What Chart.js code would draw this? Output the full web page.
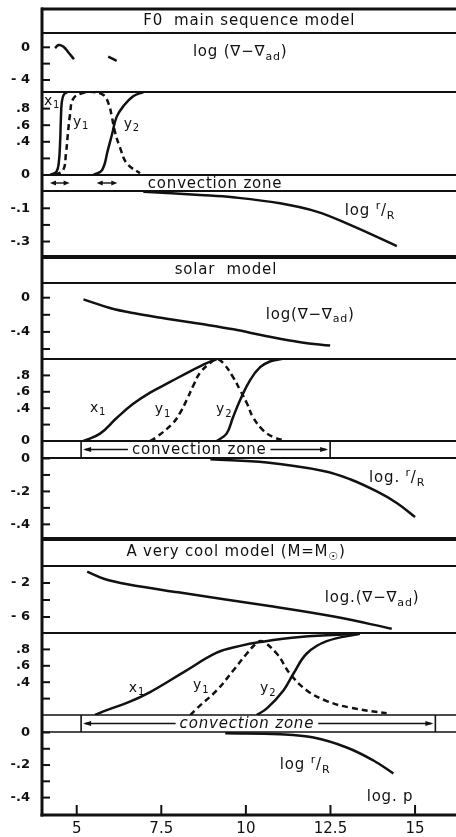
<!DOCTYPE html>
<html>
<head>
<meta charset="utf-8">
<script src="https://cdn.jsdelivr.net/npm/chart.js@4.4.0/dist/chart.umd.min.js"></script>
<style>
  html, body { margin: 0; padding: 0; background: #fff; overflow: hidden; }
</style>
</head>
<body>
<canvas id="chart" width="456" height="837"></canvas>
<script>
// ---- data (x = log p) ----
const xTicks = [5, 7.5, 10, 12.5, 15];
const xTickLabels = ['5', '7.5', '10', '12.5', '15'];

// F0 main sequence model
const f0Grad = [[4.36, -0.1], [4.46, 0.28], [4.6, 0.1], [4.75, -0.6], [4.92, -1.45], [5.4, null], [5.93, -1.15], [6.18, -1.65]];
const f0X1 = [[4.21, 0], [4.4, 0.04], [4.47, 0.15], [4.51, 0.4], [4.53, 0.65], [4.56, 0.88], [4.62, 0.97], [4.72, 1.0]];
const f0Y1 = [[4.36, 0], [4.6, 0.06], [4.68, 0.25], [4.74, 0.5], [4.8, 0.72], [4.9, 0.92], [5.2, 0.99], [5.49, 1.0], [5.8, 0.96], [5.95, 0.85], [6.03, 0.72], [6.13, 0.52], [6.28, 0.33], [6.48, 0.14], [6.87, 0.02]];
const f0Y2 = [[5.49, 0], [5.75, 0.06], [5.92, 0.3], [6.05, 0.5], [6.18, 0.7], [6.38, 0.83], [6.67, 0.95], [6.97, 1.0]];
const f0R = [[6.97, 0.0], [8.64, -0.02], [9.62, -0.034], [11.01, -0.07], [12.09, -0.12], [13.08, -0.2], [14.46, -0.327]];
const f0Conv = [[4.21, 4.79], [5.59, 6.2]];

// solar model
const solarGrad = [[5.2, -0.02], [5.98, -0.12], [6.67, -0.18], [7.66, -0.245], [8.64, -0.305], [9.63, -0.37], [10.62, -0.45], [11.61, -0.52], [12.49, -0.56]];
const solarX1 = [[5.2, 0], [5.69, 0.09], [6.18, 0.28], [6.66, 0.45], [7.17, 0.59], [7.76, 0.72], [8.35, 0.85], [8.84, 0.95], [9.14, 1.0]];
const solarY1 = [[7.17, 0], [7.37, 0.05], [7.85, 0.22], [8.05, 0.34], [8.25, 0.5], [8.45, 0.68], [8.64, 0.83], [8.94, 0.95], [9.14, 1.0], [9.35, 0.94], [9.62, 0.78], [9.83, 0.62], [10.03, 0.46], [10.21, 0.29], [10.51, 0.13], [10.8, 0.05], [11.1, 0.01]];
const solarY2 = [[9.14, 0], [9.43, 0.09], [9.62, 0.29], [9.83, 0.5], [10.12, 0.74], [10.42, 0.9], [10.71, 0.97], [11.06, 1.0]];
const solarR = [[8.95, -0.005], [10.62, -0.025], [12.29, -0.076], [13.08, -0.126], [13.87, -0.2], [14.46, -0.27], [15.0, -0.356]];
const solarConv = [5.13, 12.49];

// a very cool model
const coolGrad = [[5.31, -0.67], [5.8, -1.5], [6.5, -2.15], [8.0, -3.1], [10.6, -4.65], [12.6, -5.95], [14.31, -7.38]];
const coolX1 = [[5.54, 0], [5.89, 0.06], [6.5, 0.15], [7.17, 0.28], [8.15, 0.52], [9.14, 0.76], [9.8, 0.84], [10.42, 0.89], [11.6, 0.95], [13.37, 0.99]];
const coolY1 = [[8.36, 0], [8.55, 0.08], [9.14, 0.3], [9.62, 0.54], [10.03, 0.75], [10.3, 0.87], [10.47, 0.9], [10.91, 0.75], [11.31, 0.5], [11.8, 0.3], [12.39, 0.17], [13.08, 0.09], [14.16, 0.02]];
const coolY2 = [[10.32, 0], [10.62, 0.08], [11.11, 0.3], [11.4, 0.5], [11.8, 0.75], [12.39, 0.9], [13.37, 0.99]];
const coolR = [[9.39, -0.005], [11.01, -0.011], [12.0, -0.031], [12.98, -0.092], [13.77, -0.172], [14.36, -0.252]];
const coolConv = [5.13, 15.6];

// y tick values and their printed labels
const f0GradTicks = [0, -2, -4];           const f0GradLabels = ['0', '', '- 4'];
const f0CompTicks = [0, 0.2, 0.4, 0.6, 0.8]; const f0CompLabels = ['0', '', '.4', '.6', '.8'];
const f0RTicks = [-0.1, -0.2, -0.3];       const f0RLabels = ['-.1', '', '-.3'];
const solarGradTicks = [0, -0.2, -0.4, -0.6]; const solarGradLabels = ['0', '', '-.4', ''];
const solarCompTicks = [0, 0.2, 0.4, 0.6, 0.8]; const solarCompLabels = ['0', '', '.4', '.6', '.8'];
const solarRTicks = [0, -0.1, -0.2, -0.3, -0.4]; const solarRLabels = ['0', '', '-.2', '', '-.4'];
const coolGradTicks = [-2, -4, -6];        const coolGradLabels = ['- 2', '', '- 6'];
const coolCompTicks = [0.2, 0.4, 0.6, 0.8]; const coolCompLabels = ['', '.4', '.6', '.8'];
const coolRTicks = [0, -0.1, -0.2, -0.3, -0.4]; const coolRLabels = ['0', '', '-.2', '', '-.4'];

// ---- layout ----
const ink = '#111';
const family = '"DejaVu Sans", sans-serif';

// vertical strips, top to bottom (h = share of the plot height in px)
const strips = [
  {id: 't1', h: 24, rule: 3},
  {id: 'g1', h: 59, rule: 2, min: -5.47, max: 1.75, ticks: f0GradTicks, labels: f0GradLabels},
  {id: 'c1', h: 83, rule: 2, ticks: f0CompTicks, labels: f0CompLabels},
  {id: 'z1', h: 16, rule: 2},
  {id: 'r1', h: 66, rule: 2, min: -0.393, max: 0.004, ticks: f0RTicks, labels: f0RLabels},
  {id: 't2', h: 26, rule: 4},
  {id: 'g2', h: 76, rule: 2, min: -0.717, max: 0.172, ticks: solarGradTicks, labels: solarGradLabels},
  {id: 'c2', h: 82, rule: 2, ticks: solarCompTicks, labels: solarCompLabels},
  {id: 'z2', h: 17, rule: 2},
  {id: 'r2', h: 81, rule: 2, min: -0.489, max: 0.003, ticks: solarRTicks, labels: solarRLabels},
  {id: 't3', h: 27, rule: 4},
  {id: 'g3', h: 67, rule: 2, min: -7.88, max: 0, ticks: coolGradTicks, labels: coolGradLabels},
  {id: 'c3', h: 82, rule: 2, ticks: coolCompTicks, labels: coolCompLabels},
  {id: 'z3', h: 17, rule: 1.5},
  {id: 'r3', h: 83, rule: 1.5, min: -0.507, max: 0.003, ticks: coolRTicks, labels: coolRLabels}
];

const scales = {
  x: {
    type: 'linear', position: 'bottom', min: 3.974, max: 16.21, bounds: 'data',
    afterBuildTicks: s => { s.ticks = xTicks.map(v => ({value: v})); },
    afterFit: s => { s.height = 22; s.paddingLeft = 0; s.paddingRight = 0; },
    ticks: {callback: (v, i) => xTickLabels[i], font: {family, size: 15}, color: ink, padding: 5, maxRotation: 0, autoSkip: false},
    grid: {display: false, drawTicks: false},
    border: {display: false}
  }
};
strips.forEach((p, i) => {
  scales[p.id] = {
    type: 'linear', position: 'left', stack: 'panels', stackWeight: p.h, weight: strips.length - i,
    min: p.min !== undefined ? p.min : 0, max: p.max !== undefined ? p.max : 1, bounds: 'data',
    afterBuildTicks: s => { s.ticks = (p.ticks || []).map(v => ({value: v})); },
    afterFit: s => { s.width = 42; s.paddingTop = 0; s.paddingBottom = 0; },
    ticks: {display: !!p.ticks, callback: (v, k) => (p.labels ? p.labels[k] : ''), font: {family, size: 13, weight: 'bold'}, color: ink, padding: 12, autoSkip: false},
    grid: {display: false, drawTicks: false},
    border: {display: false}
  };
});

const curve = (pts, yAxisID, dashed) => ({
  data: pts.map(([x, y]) => ({x, y})),
  xAxisID: 'x', yAxisID,
  borderColor: ink, borderWidth: 2.5, borderDash: dashed ? [6, 4] : [],
  pointRadius: 0, tension: 0.4, spanGaps: false, fill: false
});

const datasets = [
  curve(f0Grad, 'g1'), curve(f0X1, 'c1'), curve(f0Y1, 'c1', true), curve(f0Y2, 'c1'), curve(f0R, 'r1'),
  curve(solarGrad, 'g2'), curve(solarX1, 'c2'), curve(solarY1, 'c2', true), curve(solarY2, 'c2'), curve(solarR, 'r2'),
  curve(coolGrad, 'g3'), curve(coolX1, 'c3'), curve(coolY1, 'c3', true), curve(coolY2, 'c3'), curve(coolR, 'r3')
];

// annotations: strip id, x value, y value on that strip, text runs, size
const grad = [['log (\u2207\u2212\u2207', 'n'], ['ad', 'sub'], [')', 'n']];
const gradDot = [['log.(\u2207\u2212\u2207', 'n'], ['ad', 'sub'], [')', 'n']];
const rr = pre => [[pre, 'n'], ['r', 'sup'], ['/', 'n'], ['R', 'sub']];
const notes = [
  {s: 't1', x: 10.1, y: 0.5, runs: [['F0  main sequence model', 'n']], size: 15},
  {s: 'g1', x: 9.83, y: -0.57, runs: grad, size: 15},
  {s: 'c1', x: 4.27, y: 0.89, runs: [['x', 'n'], ['1', 'sub']], size: 14},
  {s: 'c1', x: 5.13, y: 0.64, runs: [['y', 'n'], ['1', 'sub']], size: 14},
  {s: 'c1', x: 6.63, y: 0.61, runs: [['y', 'n'], ['2', 'sub']], size: 14},
  {s: 'r1', x: 13.67, y: -0.116, runs: rr('log '), size: 15},
  {s: 't2', x: 9.41, y: 0.5, runs: [['solar  model', 'n']], size: 15},
  {s: 'g2', x: 11.9, y: -0.2, runs: [['log(\u2207\u2212\u2207', 'n'], ['ad', 'sub'], [')', 'n']], size: 15},
  {s: 'c2', x: 5.63, y: 0.4, runs: [['x', 'n'], ['1', 'sub']], size: 14},
  {s: 'c2', x: 7.55, y: 0.38, runs: [['y', 'n'], ['1', 'sub']], size: 14},
  {s: 'c2', x: 9.36, y: 0.38, runs: [['y', 'n'], ['2', 'sub']], size: 14},
  {s: 'r2', x: 14.47, y: -0.119, runs: rr('log. '), size: 15},
  {s: 't3', x: 9.71, y: 0.5, runs: [['A very cool model (M=M', 'n'], ['\u2609', 'sub'], [')', 'n']], size: 15},
  {s: 'g3', x: 13.73, y: -3.76, runs: gradDot, size: 15},
  {s: 'c3', x: 6.78, y: 0.33, runs: [['x', 'n'], ['1', 'sub']], size: 14},
  {s: 'c3', x: 8.68, y: 0.36, runs: [['y', 'n'], ['1', 'sub']], size: 14},
  {s: 'c3', x: 10.66, y: 0.32, runs: [['y', 'n'], ['2', 'sub']], size: 14},
  {s: 'r3', x: 11.75, y: -0.2, runs: rr('log '), size: 15},
  {s: 'r3', x: 14.26, y: -0.4, runs: [['log. p', 'n']], size: 15}
];

function hline(ctx, x0, x1, y) { ctx.beginPath(); ctx.moveTo(x0, y); ctx.lineTo(x1, y); ctx.stroke(); }
function vline(ctx, x, y0, y1) { ctx.beginPath(); ctx.moveTo(x, y0); ctx.lineTo(x, y1); ctx.stroke(); }
function head(ctx, x, y, dir, len, half) {
  ctx.beginPath(); ctx.moveTo(x, y); ctx.lineTo(x - dir * len, y - half); ctx.lineTo(x - dir * len, y + half); ctx.closePath(); ctx.fill();
}
function runsWidth(ctx, runs, size) {
  let w = 0;
  runs.forEach(([t, k]) => { ctx.font = (k === 'n' ? size : Math.round(size * 0.72)) + 'px ' + family; w += ctx.measureText(t).width; });
  return w;
}
function drawRuns(ctx, runs, cx, cy, size) {
  let x = cx - runsWidth(ctx, runs, size) / 2;
  runs.forEach(([t, k]) => {
    ctx.font = (k === 'n' ? size : Math.round(size * 0.72)) + 'px ' + family;
    const dy = k === 'sub' ? size * 0.32 : k === 'sup' ? -size * 0.3 : 0;
    ctx.fillText(t, x, cy + dy);
    x += ctx.measureText(t).width;
  });
}
function zoneText(ctx, text, cx, cy, italic) {
  ctx.font = (italic ? 'italic ' : '') + '15px ' + family;
  const w = ctx.measureText(text).width;
  ctx.fillStyle = '#fff';
  ctx.fillRect(cx - w / 2 - 4, cy - 7, w + 8, 14);
  ctx.fillStyle = ink;
  ctx.textAlign = 'center';
  ctx.fillText(text, cx, cy + 1);
  ctx.textAlign = 'left';
}

const figure = {
  id: 'figure',
  afterDatasetsDraw(chart) {
    const {ctx, chartArea: a, scales: sc} = chart;
    const x = sc.x;
    ctx.save();
    ctx.strokeStyle = ink;
    ctx.fillStyle = ink;
    ctx.lineCap = 'butt';
    ctx.textBaseline = 'middle';
    if ('letterSpacing' in ctx) ctx.letterSpacing = '0.8px';

    // convection zones
    const z1 = sc.z1, z2 = sc.z2, z3 = sc.z3;
    const mid = s => (s.top + s.bottom) / 2;
    ctx.lineWidth = 1.4;
    f0Conv.forEach(([u, v]) => {
      const p0 = x.getPixelForValue(u), p1 = x.getPixelForValue(v), y = mid(z1);
      hline(ctx, p0 + 3, p1 - 3, y);
      head(ctx, p0, y, -1, 6, 2.5);
      head(ctx, p1, y, 1, 6, 2.5);
    });
    zoneText(ctx, 'convection zone', x.getPixelForValue(9.09), mid(z1), false);

    [[z2, solarConv, 8.62, false], [z3, coolConv, 10.03, true]].forEach(([s, r, tx, it]) => {
      const p0 = x.getPixelForValue(r[0]), p1 = x.getPixelForValue(r[1]), y = mid(s);
      ctx.lineWidth = 1.6;
      vline(ctx, p0, s.top, s.bottom);
      vline(ctx, p1, s.top, s.bottom);
      ctx.lineWidth = 1.3;
      hline(ctx, p0 + 4, p1 - 4, y);
      head(ctx, p0 + 2, y, -1, 8, 2.5);
      head(ctx, p1 - 2, y, 1, 8, 2.5);
      zoneText(ctx, 'convection zone', x.getPixelForValue(tx), y, it);
    });

    // frame: left axis, strip rules, bottom axis
    strips.forEach(p => {
      ctx.lineWidth = p.rule;
      hline(ctx, a.left - 1, a.right, sc[p.id].top);
    });
    ctx.lineWidth = 3;
    hline(ctx, a.left - 1.5, a.right, a.bottom);
    vline(ctx, a.left, a.top - 1.5, a.bottom + 1.5);

    // inward tick marks
    ctx.lineWidth = 2;
    strips.forEach(p => {
      const s = sc[p.id];
      s.ticks.forEach(t => hline(ctx, a.left, a.left + 8, s.getPixelForValue(t.value)));
    });
    x.ticks.forEach(t => vline(ctx, x.getPixelForValue(t.value), a.bottom, a.bottom - 10));

    // labels
    ctx.fillStyle = ink;
    ctx.textAlign = 'left';
    notes.forEach(n => {
      const s = sc[n.s];
      drawRuns(ctx, n.runs, x.getPixelForValue(n.x), s.getPixelForValue(n.y), n.size);
    });
    ctx.restore();
  }
};

new Chart(document.getElementById('chart'), {
  type: 'line',
  data: {datasets},
  options: {
    responsive: false,
    animation: false,
    events: [],
    layout: {padding: {top: 9, left: 0, right: 0, bottom: 0}},
    plugins: {legend: {display: false}, tooltip: {enabled: false}, title: {display: false}},
    scales
  },
  plugins: [figure]
});
</script>
</body>
</html>
